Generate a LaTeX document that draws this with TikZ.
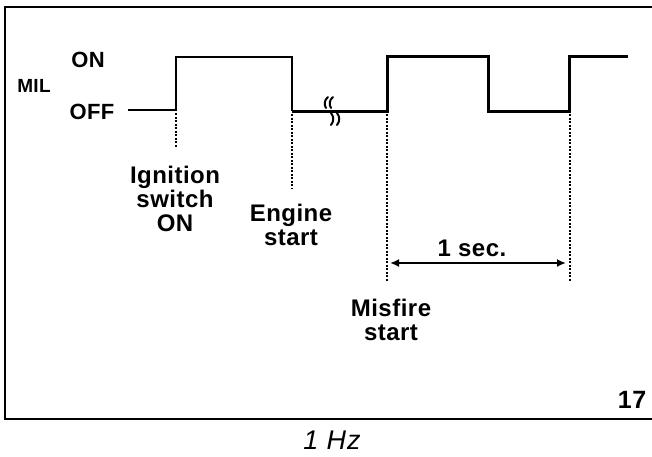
\documentclass[tikz,border=0pt]{standalone}
\usepackage{fontspec}
\setmainfont{Liberation Sans}
\newfontfamily\lblfont[LetterSpace=2, BoldFont={Liberation Sans Bold}]{Liberation Sans}
\newfontfamily\capfont[LetterSpace=3, ItalicFont={Liberation Sans Italic}]{Liberation Sans}
\usetikzlibrary{arrows.meta}
\begin{document}
\begin{tikzpicture}[x=1pt,y=-1pt,
  lbl/.style={font=\lblfont\bfseries\fontsize{24}{24}\selectfont, align=center, inner sep=0pt},
  thinwave/.style={line width=1.8pt, line join=miter},
  thickwave/.style={line width=3pt, line join=miter},
  guide/.style={line width=1.3pt, dash pattern=on 2pt off 1.5pt},
  brk/.style={line width=2pt, line cap=round},
  frame/.style={line width=2.8pt}]
\useasboundingbox (0,0) rectangle (652,456);
% frame
\draw[frame] (660,7) -- (5,7) -- (5,419) -- (660,419);
% labels
\node[lbl, font=\lblfont\bfseries\fontsize{22}{22}\selectfont] (on) at (88,60) {ON};
\node[lbl, font=\lblfont\bfseries\fontsize{19}{20}\selectfont] (mil) at (34,86) {MIL};
\node[lbl, font=\lblfont\bfseries\fontsize{22}{22}\selectfont] (off) at (92,112) {OFF};
% coordinates of waveform
\coordinate (a0) at (128,110);
\coordinate (a1) at (176,110);
\coordinate (a2) at (176,57);
\coordinate (a3) at (292,57);
\coordinate (a4) at (292,111);
\coordinate (a5) at (387,111);
\coordinate (a6) at (387,56);
\coordinate (a7) at (488,56);
\coordinate (a8) at (488,111);
\coordinate (a9) at (569,111);
\coordinate (a10) at (569,56);
\coordinate (a11) at (628,56);
\draw[thinwave] (a0) -- (a1) -- (a2) -- (a3) -- (a4);
\draw[thickwave] (a4) -- (a5) -- (a6) -- (a7) -- (a8) -- (a9) -- (a10) -- (a11);
% break marks
\draw[brk] (328,97) .. controls (324,100) and (324,105) .. (326,108);
\draw[brk] (333,97) .. controls (329,100) and (329,105) .. (331,108);
\draw[brk] (331,113) .. controls (334,117) and (334,121) .. (331,125);
\draw[brk] (337,113) .. controls (340,117) and (340,121) .. (337,125);
% guides
\coordinate (g1) at (176,148);
\coordinate (g2) at (292,188);
\coordinate (g3) at (387,282);
\coordinate (g4) at (570,282);
\draw[guide] (176,113) -- (g1);
\draw[guide] (292,114) -- (g2);
\draw[guide] (387,114) -- (g3);
\draw[guide] (570,114) -- (g4);
% event labels
\node[lbl] (ign) at (175,199) {Ignition\\switch\\ON};
\node[lbl] (eng) at (291,225) {Engine\\start};
\node[lbl] (mis) at (391,320) {Misfire\\start};
% 1 sec
\coordinate (s1) at (390,263);
\coordinate (s2) at (566,263);
\draw[line width=1.8pt, {Latex[length=9pt,width=8pt]}-{Latex[length=9pt,width=8pt]}] (s1) -- (s2);
\node[lbl] (sec) at (472,248) {1 sec.};
% figure number
\node[lbl, font=\lblfont\bfseries\fontsize{25}{26}\selectfont] (num) at (632,400) {17};
% caption
\node[inner sep=0pt, font=\capfont\itshape\fontsize{27}{28}\selectfont] (cap) at (332,440) {1 Hz};
\end{tikzpicture}
\end{document}
